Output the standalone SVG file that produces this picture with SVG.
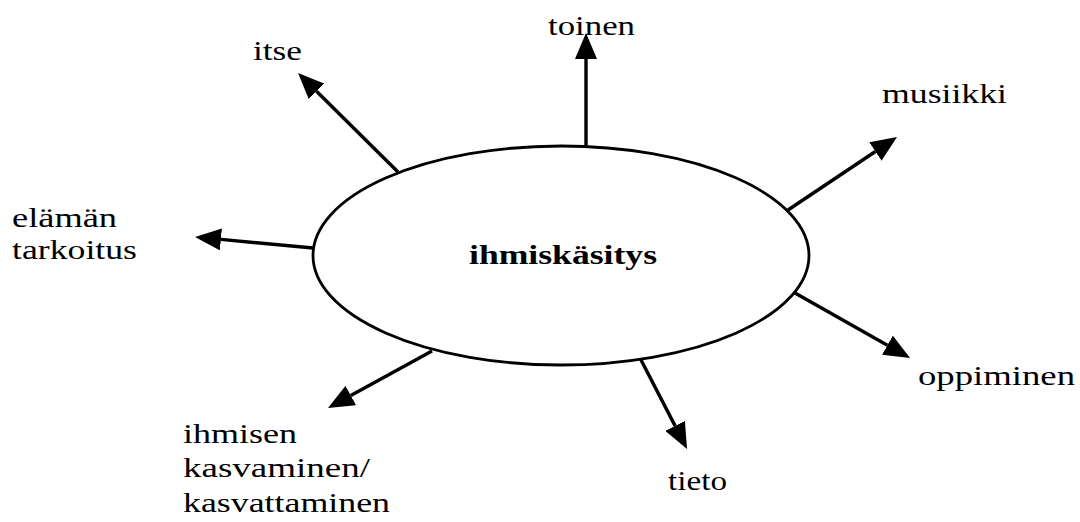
<svg xmlns="http://www.w3.org/2000/svg" width="1080" height="522" viewBox="0 0 1080 522">
<style>
.lbl{font-family:"Liberation Serif","DejaVu Serif",serif;font-size:27px;fill:#000}
.ctr{font-family:"Liberation Serif","DejaVu Serif",serif;font-size:28px;font-weight:bold;fill:#000}
.con{stroke:#000;stroke-width:3.4;fill:none;marker-end:url(#ah)}
</style>
<defs>
<marker id="ah" viewBox="0 0 26 22" markerWidth="26" markerHeight="22" refX="0" refY="11" markerUnits="userSpaceOnUse" orient="auto">
<path d="M0,0 L26,11 L0,22 Z" fill="#000"/>
</marker>
</defs>
<rect width="1080" height="522" fill="#fff"/>
<g id="connectors">
<line class="con" x1="398" y1="172" x2="316.5" y2="91.3"/>
<line class="con" x1="586" y1="146" x2="586" y2="59"/>
<line class="con" x1="788" y1="210" x2="875.4" y2="151.5"/>
<line class="con" x1="313" y1="248" x2="220.9" y2="239.4"/>
<line class="con" x1="432" y1="351" x2="350.8" y2="395.5"/>
<line class="con" x1="640" y1="358" x2="675.1" y2="425.9"/>
<line class="con" x1="795" y1="293" x2="887.4" y2="345.2"/>
</g>
<g id="center">
<ellipse cx="561" cy="255.5" rx="248" ry="109.5" fill="#fff" stroke="#000" stroke-width="2.8"/>
<text class="ctr" x="469" y="264" textLength="188" lengthAdjust="spacingAndGlyphs">ihmiskäsitys</text>
</g>
<g id="itse"><text class="lbl" x="253" y="60" textLength="49" lengthAdjust="spacingAndGlyphs">itse</text></g>
<g id="toinen"><text class="lbl" x="548" y="35" textLength="87" lengthAdjust="spacingAndGlyphs">toinen</text></g>
<g id="musiikki"><text class="lbl" x="882" y="103" textLength="125" lengthAdjust="spacingAndGlyphs">musiikki</text></g>
<g id="elaman">
<text class="lbl" x="12" y="227" textLength="105" lengthAdjust="spacingAndGlyphs">elämän</text>
<text class="lbl" x="12" y="259" textLength="125" lengthAdjust="spacingAndGlyphs">tarkoitus</text>
</g>
<g id="ihmisen">
<text class="lbl" x="183" y="443" textLength="114" lengthAdjust="spacingAndGlyphs">ihmisen</text>
<text class="lbl" x="183" y="477" textLength="187" lengthAdjust="spacingAndGlyphs">kasvaminen/</text>
<text class="lbl" x="183" y="512" textLength="207" lengthAdjust="spacingAndGlyphs">kasvattaminen</text>
</g>
<g id="tieto"><text class="lbl" x="668" y="490" textLength="59" lengthAdjust="spacingAndGlyphs">tieto</text></g>
<g id="oppiminen"><text class="lbl" x="918" y="385" textLength="157" lengthAdjust="spacingAndGlyphs">oppiminen</text></g>
</svg>
